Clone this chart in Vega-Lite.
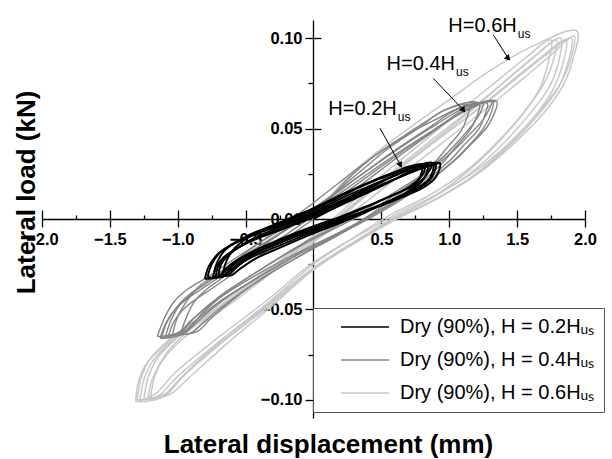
{
  "$schema": "https://vega.github.io/schema/vega-lite/v6.json",
  "width": 543,
  "height": 398,
  "autosize": {"type": "none"},
  "padding": {"left": 42, "top": 20, "right": 27, "bottom": 41},
  "background": "white",
  "config": {
    "view": {"stroke": null},
    "font": "Liberation Sans",
    "axis": {"grid": false, "tickColor": "black", "domainColor": "black", "tickWidth": 1.3, "domainWidth": 1.3, "labelColor": "black", "titleColor": "black"}
  },
  "datasets": {
    "loops": [
      {"s":"0.6","c":0,"i":0,"x":0,"y":0},{"s":"0.6","c":0,"i":1,"x":0.2,"y":0.019},{"s":"0.6","c":0,"i":2,"x":0.4,"y":0.033},{"s":"0.6","c":0,"i":3,"x":0.7,"y":0.05},{"s":"0.6","c":0,"i":4,"x":1.0,"y":0.066},{"s":"0.6","c":0,"i":5,"x":1.3,"y":0.082},{"s":"0.6","c":0,"i":6,"x":1.6,"y":0.095},{"s":"0.6","c":0,"i":7,"x":1.94,"y":0.104},{"s":"0.6","c":0,"i":8,"x":1.91,"y":0.088},{"s":"0.6","c":0,"i":9,"x":1.84,"y":0.074},{"s":"0.6","c":0,"i":10,"x":1.69,"y":0.058},{"s":"0.6","c":0,"i":11,"x":1.48,"y":0.042},{"s":"0.6","c":0,"i":12,"x":1.23,"y":0.026},{"s":"0.6","c":0,"i":13,"x":0.93,"y":0.012},{"s":"0.6","c":0,"i":14,"x":0.62,"y":0.001},

      {"s":"0.6","c":1,"i":0,"x":-1.3,"y":-0.1},{"s":"0.6","c":1,"i":1,"x":-1.27,"y":-0.088},{"s":"0.6","c":1,"i":2,"x":-1.2,"y":-0.077},{"s":"0.6","c":1,"i":3,"x":-1.05,"y":-0.066},{"s":"0.6","c":1,"i":4,"x":-0.85,"y":-0.055},{"s":"0.6","c":1,"i":5,"x":-0.6,"y":-0.042},{"s":"0.6","c":1,"i":6,"x":-0.3,"y":-0.026},{"s":"0.6","c":1,"i":7,"x":0,"y":-0.01},{"s":"0.6","c":1,"i":8,"x":0.3,"y":0.008},{"s":"0.6","c":1,"i":9,"x":0.6,"y":0.026},{"s":"0.6","c":1,"i":10,"x":0.9,"y":0.043},{"s":"0.6","c":1,"i":11,"x":1.2,"y":0.06},{"s":"0.6","c":1,"i":12,"x":1.5,"y":0.078},{"s":"0.6","c":1,"i":13,"x":1.7,"y":0.09},{"s":"0.6","c":1,"i":14,"x":1.9,"y":0.1},{"s":"0.6","c":1,"i":15,"x":1.87,"y":0.085},{"s":"0.6","c":1,"i":16,"x":1.8,"y":0.072},{"s":"0.6","c":1,"i":17,"x":1.65,"y":0.057},{"s":"0.6","c":1,"i":18,"x":1.45,"y":0.041},{"s":"0.6","c":1,"i":19,"x":1.2,"y":0.025},{"s":"0.6","c":1,"i":20,"x":0.9,"y":0.011},{"s":"0.6","c":1,"i":21,"x":0.6,"y":0.0},{"s":"0.6","c":1,"i":22,"x":0.3,"y":-0.013},{"s":"0.6","c":1,"i":23,"x":0,"y":-0.027},{"s":"0.6","c":1,"i":24,"x":-0.35,"y":-0.048},{"s":"0.6","c":1,"i":25,"x":-0.7,"y":-0.068},{"s":"0.6","c":1,"i":26,"x":-1.0,"y":-0.087},{"s":"0.6","c":1,"i":27,"x":-1.15,"y":-0.098},{"s":"0.6","c":1,"i":28,"x":-1.3,"y":-0.1},

      {"s":"0.6","c":2,"i":0,"x":-1.25,"y":-0.1},{"s":"0.6","c":2,"i":1,"x":-1.22,"y":-0.088},{"s":"0.6","c":2,"i":2,"x":-1.15,"y":-0.077},{"s":"0.6","c":2,"i":3,"x":-1.01,"y":-0.066},{"s":"0.6","c":2,"i":4,"x":-0.82,"y":-0.055},{"s":"0.6","c":2,"i":5,"x":-0.58,"y":-0.042},{"s":"0.6","c":2,"i":6,"x":-0.29,"y":-0.026},{"s":"0.6","c":2,"i":7,"x":0,"y":-0.01},{"s":"0.6","c":2,"i":8,"x":0.29,"y":0.008},{"s":"0.6","c":2,"i":9,"x":0.58,"y":0.026},{"s":"0.6","c":2,"i":10,"x":0.86,"y":0.043},{"s":"0.6","c":2,"i":11,"x":1.15,"y":0.06},{"s":"0.6","c":2,"i":12,"x":1.44,"y":0.078},{"s":"0.6","c":2,"i":13,"x":1.63,"y":0.09},{"s":"0.6","c":2,"i":14,"x":1.82,"y":0.1},{"s":"0.6","c":2,"i":15,"x":1.8,"y":0.085},{"s":"0.6","c":2,"i":16,"x":1.73,"y":0.072},{"s":"0.6","c":2,"i":17,"x":1.58,"y":0.057},{"s":"0.6","c":2,"i":18,"x":1.39,"y":0.041},{"s":"0.6","c":2,"i":19,"x":1.15,"y":0.025},{"s":"0.6","c":2,"i":20,"x":0.86,"y":0.011},{"s":"0.6","c":2,"i":21,"x":0.58,"y":0.0},{"s":"0.6","c":2,"i":22,"x":0.29,"y":-0.013},{"s":"0.6","c":2,"i":23,"x":0,"y":-0.027},{"s":"0.6","c":2,"i":24,"x":-0.34,"y":-0.048},{"s":"0.6","c":2,"i":25,"x":-0.67,"y":-0.068},{"s":"0.6","c":2,"i":26,"x":-0.96,"y":-0.087},{"s":"0.6","c":2,"i":27,"x":-1.1,"y":-0.098},{"s":"0.6","c":2,"i":28,"x":-1.25,"y":-0.1},

      {"s":"0.6","c":3,"i":0,"x":-1.2,"y":-0.099},{"s":"0.6","c":3,"i":1,"x":-1.17,"y":-0.087},{"s":"0.6","c":3,"i":2,"x":-1.1,"y":-0.076},{"s":"0.6","c":3,"i":3,"x":-0.97,"y":-0.065},{"s":"0.6","c":3,"i":4,"x":-0.78,"y":-0.054},{"s":"0.6","c":3,"i":5,"x":-0.55,"y":-0.041},{"s":"0.6","c":3,"i":6,"x":-0.28,"y":-0.025},{"s":"0.6","c":3,"i":7,"x":0,"y":-0.009},{"s":"0.6","c":3,"i":8,"x":0.28,"y":0.009},{"s":"0.6","c":3,"i":9,"x":0.55,"y":0.027},{"s":"0.6","c":3,"i":10,"x":0.83,"y":0.044},{"s":"0.6","c":3,"i":11,"x":1.1,"y":0.061},{"s":"0.6","c":3,"i":12,"x":1.38,"y":0.078},{"s":"0.6","c":3,"i":13,"x":1.56,"y":0.089},{"s":"0.6","c":3,"i":14,"x":1.75,"y":0.099},{"s":"0.6","c":3,"i":15,"x":1.72,"y":0.084},{"s":"0.6","c":3,"i":16,"x":1.66,"y":0.071},{"s":"0.6","c":3,"i":17,"x":1.52,"y":0.056},{"s":"0.6","c":3,"i":18,"x":1.33,"y":0.04},{"s":"0.6","c":3,"i":19,"x":1.1,"y":0.024},{"s":"0.6","c":3,"i":20,"x":0.83,"y":0.01},{"s":"0.6","c":3,"i":21,"x":0.55,"y":-0.001},{"s":"0.6","c":3,"i":22,"x":0.28,"y":-0.014},{"s":"0.6","c":3,"i":23,"x":0,"y":-0.028},{"s":"0.6","c":3,"i":24,"x":-0.32,"y":-0.049},{"s":"0.6","c":3,"i":25,"x":-0.64,"y":-0.069},{"s":"0.6","c":3,"i":26,"x":-0.92,"y":-0.088},{"s":"0.6","c":3,"i":27,"x":-1.06,"y":-0.097},{"s":"0.6","c":3,"i":28,"x":-1.2,"y":-0.099},

      {"s":"0.6","c":4,"i":0,"x":-1.28,"y":-0.101},{"s":"0.6","c":4,"i":1,"x":-1.25,"y":-0.089},{"s":"0.6","c":4,"i":2,"x":-1.18,"y":-0.078},{"s":"0.6","c":4,"i":3,"x":-1.03,"y":-0.067},{"s":"0.6","c":4,"i":4,"x":-0.83,"y":-0.056},{"s":"0.6","c":4,"i":5,"x":-0.59,"y":-0.043},{"s":"0.6","c":4,"i":6,"x":-0.29,"y":-0.027},{"s":"0.6","c":4,"i":7,"x":0,"y":-0.011},{"s":"0.6","c":4,"i":8,"x":0.29,"y":0.007},{"s":"0.6","c":4,"i":9,"x":0.59,"y":0.025},{"s":"0.6","c":4,"i":10,"x":0.88,"y":0.042},{"s":"0.6","c":4,"i":11,"x":1.18,"y":0.059},{"s":"0.6","c":4,"i":12,"x":1.47,"y":0.077},{"s":"0.6","c":4,"i":13,"x":1.67,"y":0.089},{"s":"0.6","c":4,"i":14,"x":1.86,"y":0.099},{"s":"0.6","c":4,"i":15,"x":1.83,"y":0.084},{"s":"0.6","c":4,"i":16,"x":1.76,"y":0.071},{"s":"0.6","c":4,"i":17,"x":1.62,"y":0.056},{"s":"0.6","c":4,"i":18,"x":1.42,"y":0.04},{"s":"0.6","c":4,"i":19,"x":1.18,"y":0.024},{"s":"0.6","c":4,"i":20,"x":0.88,"y":0.01},{"s":"0.6","c":4,"i":21,"x":0.59,"y":-0.001},{"s":"0.6","c":4,"i":22,"x":0.29,"y":-0.014},{"s":"0.6","c":4,"i":23,"x":0,"y":-0.028},{"s":"0.6","c":4,"i":24,"x":-0.34,"y":-0.049},{"s":"0.6","c":4,"i":25,"x":-0.69,"y":-0.069},{"s":"0.6","c":4,"i":26,"x":-0.98,"y":-0.088},{"s":"0.6","c":4,"i":27,"x":-1.13,"y":-0.099},{"s":"0.6","c":4,"i":28,"x":-1.28,"y":-0.101},

      {"s":"0.6","c":5,"i":0,"x":-1.22,"y":-0.1},{"s":"0.6","c":5,"i":1,"x":-1.19,"y":-0.089},{"s":"0.6","c":5,"i":2,"x":-1.12,"y":-0.079},{"s":"0.6","c":5,"i":3,"x":-0.99,"y":-0.068},{"s":"0.6","c":5,"i":4,"x":-0.8,"y":-0.057},{"s":"0.6","c":5,"i":5,"x":-0.56,"y":-0.044},{"s":"0.6","c":5,"i":6,"x":-0.28,"y":-0.028},{"s":"0.6","c":5,"i":7,"x":0,"y":-0.012},{"s":"0.6","c":5,"i":8,"x":0.28,"y":0.006},{"s":"0.6","c":5,"i":9,"x":0.56,"y":0.024},{"s":"0.6","c":5,"i":10,"x":0.85,"y":0.041},{"s":"0.6","c":5,"i":11,"x":1.13,"y":0.058},{"s":"0.6","c":5,"i":12,"x":1.41,"y":0.076},{"s":"0.6","c":5,"i":13,"x":1.6,"y":0.088},{"s":"0.6","c":5,"i":14,"x":1.79,"y":0.099},{"s":"0.6","c":5,"i":15,"x":1.76,"y":0.086},{"s":"0.6","c":5,"i":16,"x":1.69,"y":0.074},{"s":"0.6","c":5,"i":17,"x":1.55,"y":0.059},{"s":"0.6","c":5,"i":18,"x":1.36,"y":0.043},{"s":"0.6","c":5,"i":19,"x":1.13,"y":0.027},{"s":"0.6","c":5,"i":20,"x":0.85,"y":0.013},{"s":"0.6","c":5,"i":21,"x":0.56,"y":0.002},{"s":"0.6","c":5,"i":22,"x":0.28,"y":-0.011},{"s":"0.6","c":5,"i":23,"x":0,"y":-0.025},{"s":"0.6","c":5,"i":24,"x":-0.33,"y":-0.046},{"s":"0.6","c":5,"i":25,"x":-0.66,"y":-0.066},{"s":"0.6","c":5,"i":26,"x":-0.94,"y":-0.085},{"s":"0.6","c":5,"i":27,"x":-1.08,"y":-0.096},{"s":"0.6","c":5,"i":28,"x":-1.22,"y":-0.1},

      {"s":"0.6","c":6,"i":0,"x":-1.31,"y":-0.101},{"s":"0.6","c":6,"i":1,"x":-1.29,"y":-0.09},{"s":"0.6","c":6,"i":2,"x":-1.23,"y":-0.08},{"s":"0.6","c":6,"i":3,"x":-1.08,"y":-0.069},{"s":"0.6","c":6,"i":4,"x":-0.88,"y":-0.058},{"s":"0.6","c":6,"i":5,"x":-0.62,"y":-0.045},{"s":"0.6","c":6,"i":6,"x":-0.31,"y":-0.029},{"s":"0.6","c":6,"i":7,"x":0,"y":-0.013},{"s":"0.6","c":6,"i":8,"x":0.31,"y":0.005},{"s":"0.6","c":6,"i":9,"x":0.62,"y":0.023},{"s":"0.6","c":6,"i":10,"x":0.93,"y":0.041},{"s":"0.6","c":6,"i":11,"x":1.24,"y":0.059},{"s":"0.6","c":6,"i":12,"x":1.55,"y":0.078},{"s":"0.6","c":6,"i":13,"x":1.74,"y":0.09},{"s":"0.6","c":6,"i":14,"x":1.92,"y":0.101},{"s":"0.6","c":6,"i":15,"x":1.89,"y":0.087},{"s":"0.6","c":6,"i":16,"x":1.82,"y":0.075},{"s":"0.6","c":6,"i":17,"x":1.67,"y":0.06},{"s":"0.6","c":6,"i":18,"x":1.47,"y":0.044},{"s":"0.6","c":6,"i":19,"x":1.22,"y":0.028},{"s":"0.6","c":6,"i":20,"x":0.92,"y":0.014},{"s":"0.6","c":6,"i":21,"x":0.62,"y":0.003},{"s":"0.6","c":6,"i":22,"x":0.31,"y":-0.01},{"s":"0.6","c":6,"i":23,"x":0,"y":-0.024},{"s":"0.6","c":6,"i":24,"x":-0.36,"y":-0.046},{"s":"0.6","c":6,"i":25,"x":-0.71,"y":-0.066},{"s":"0.6","c":6,"i":26,"x":-1.02,"y":-0.085},{"s":"0.6","c":6,"i":27,"x":-1.17,"y":-0.097},{"s":"0.6","c":6,"i":28,"x":-1.31,"y":-0.101},

      {"s":"0.4","c":0,"i":0,"x":0,"y":0},{"s":"0.4","c":0,"i":1,"x":0.2,"y":0.018},{"s":"0.4","c":0,"i":2,"x":0.4,"y":0.032},{"s":"0.4","c":0,"i":3,"x":0.65,"y":0.045},{"s":"0.4","c":0,"i":4,"x":0.9,"y":0.055},{"s":"0.4","c":0,"i":5,"x":1.13,"y":0.063},{"s":"0.4","c":0,"i":6,"x":1.35,"y":0.065},

      {"s":"0.4","c":1,"i":0,"x":-1.15,"y":-0.065},{"s":"0.4","c":1,"i":1,"x":-1.1,"y":-0.055},{"s":"0.4","c":1,"i":2,"x":-1.03,"y":-0.046},{"s":"0.4","c":1,"i":3,"x":-0.93,"y":-0.039},{"s":"0.4","c":1,"i":4,"x":-0.8,"y":-0.033},{"s":"0.4","c":1,"i":5,"x":-0.5,"y":-0.018},{"s":"0.4","c":1,"i":6,"x":-0.2,"y":-0.004},{"s":"0.4","c":1,"i":7,"x":0,"y":0.006},{"s":"0.4","c":1,"i":8,"x":0.4,"y":0.027},{"s":"0.4","c":1,"i":9,"x":0.65,"y":0.04},{"s":"0.4","c":1,"i":10,"x":0.9,"y":0.052},{"s":"0.4","c":1,"i":11,"x":1.13,"y":0.062},{"s":"0.4","c":1,"i":12,"x":1.35,"y":0.065},{"s":"0.4","c":1,"i":13,"x":1.33,"y":0.058},{"s":"0.4","c":1,"i":14,"x":1.28,"y":0.051},{"s":"0.4","c":1,"i":15,"x":1.17,"y":0.042},{"s":"0.4","c":1,"i":16,"x":1.05,"y":0.033},{"s":"0.4","c":1,"i":17,"x":0.85,"y":0.021},{"s":"0.4","c":1,"i":18,"x":0.5,"y":0.005},{"s":"0.4","c":1,"i":19,"x":0.2,"y":-0.007},{"s":"0.4","c":1,"i":20,"x":-0.1,"y":-0.018},{"s":"0.4","c":1,"i":21,"x":-0.4,"y":-0.03},{"s":"0.4","c":1,"i":22,"x":-0.7,"y":-0.044},{"s":"0.4","c":1,"i":23,"x":-0.9,"y":-0.056},{"s":"0.4","c":1,"i":24,"x":-1.0,"y":-0.063},{"s":"0.4","c":1,"i":25,"x":-1.15,"y":-0.065},

      {"s":"0.4","c":2,"i":0,"x":-1.09,"y":-0.065},{"s":"0.4","c":2,"i":1,"x":-1.05,"y":-0.056},{"s":"0.4","c":2,"i":2,"x":-0.98,"y":-0.047},{"s":"0.4","c":2,"i":3,"x":-0.88,"y":-0.04},{"s":"0.4","c":2,"i":4,"x":-0.76,"y":-0.034},{"s":"0.4","c":2,"i":5,"x":-0.48,"y":-0.019},{"s":"0.4","c":2,"i":6,"x":-0.19,"y":-0.005},{"s":"0.4","c":2,"i":7,"x":0,"y":0.005},{"s":"0.4","c":2,"i":8,"x":0.38,"y":0.026},{"s":"0.4","c":2,"i":9,"x":0.62,"y":0.039},{"s":"0.4","c":2,"i":10,"x":0.86,"y":0.051},{"s":"0.4","c":2,"i":11,"x":1.07,"y":0.061},{"s":"0.4","c":2,"i":12,"x":1.28,"y":0.064},{"s":"0.4","c":2,"i":13,"x":1.26,"y":0.057},{"s":"0.4","c":2,"i":14,"x":1.22,"y":0.05},{"s":"0.4","c":2,"i":15,"x":1.11,"y":0.041},{"s":"0.4","c":2,"i":16,"x":1.0,"y":0.032},{"s":"0.4","c":2,"i":17,"x":0.81,"y":0.02},{"s":"0.4","c":2,"i":18,"x":0.48,"y":0.004},{"s":"0.4","c":2,"i":19,"x":0.19,"y":-0.008},{"s":"0.4","c":2,"i":20,"x":-0.1,"y":-0.019},{"s":"0.4","c":2,"i":21,"x":-0.38,"y":-0.031},{"s":"0.4","c":2,"i":22,"x":-0.67,"y":-0.045},{"s":"0.4","c":2,"i":23,"x":-0.86,"y":-0.057},{"s":"0.4","c":2,"i":24,"x":-0.95,"y":-0.063},{"s":"0.4","c":2,"i":25,"x":-1.09,"y":-0.065},

      {"s":"0.4","c":3,"i":0,"x":-1.04,"y":-0.064},{"s":"0.4","c":3,"i":1,"x":-1.0,"y":-0.054},{"s":"0.4","c":3,"i":2,"x":-0.93,"y":-0.045},{"s":"0.4","c":3,"i":3,"x":-0.84,"y":-0.037},{"s":"0.4","c":3,"i":4,"x":-0.72,"y":-0.031},{"s":"0.4","c":3,"i":5,"x":-0.45,"y":-0.016},{"s":"0.4","c":3,"i":6,"x":-0.18,"y":-0.001},{"s":"0.4","c":3,"i":7,"x":0,"y":0.009},{"s":"0.4","c":3,"i":8,"x":0.36,"y":0.03},{"s":"0.4","c":3,"i":9,"x":0.59,"y":0.042},{"s":"0.4","c":3,"i":10,"x":0.81,"y":0.053},{"s":"0.4","c":3,"i":11,"x":1.02,"y":0.062},{"s":"0.4","c":3,"i":12,"x":1.22,"y":0.064},{"s":"0.4","c":3,"i":13,"x":1.2,"y":0.056},{"s":"0.4","c":3,"i":14,"x":1.15,"y":0.049},{"s":"0.4","c":3,"i":15,"x":1.05,"y":0.04},{"s":"0.4","c":3,"i":16,"x":0.95,"y":0.031},{"s":"0.4","c":3,"i":17,"x":0.77,"y":0.019},{"s":"0.4","c":3,"i":18,"x":0.45,"y":0.003},{"s":"0.4","c":3,"i":19,"x":0.18,"y":-0.009},{"s":"0.4","c":3,"i":20,"x":-0.09,"y":-0.02},{"s":"0.4","c":3,"i":21,"x":-0.36,"y":-0.032},{"s":"0.4","c":3,"i":22,"x":-0.63,"y":-0.046},{"s":"0.4","c":3,"i":23,"x":-0.81,"y":-0.057},{"s":"0.4","c":3,"i":24,"x":-0.9,"y":-0.063},{"s":"0.4","c":3,"i":25,"x":-1.04,"y":-0.064},

      {"s":"0.4","c":4,"i":0,"x":-0.98,"y":-0.064},{"s":"0.4","c":4,"i":1,"x":-0.94,"y":-0.055},{"s":"0.4","c":4,"i":2,"x":-0.88,"y":-0.046},{"s":"0.4","c":4,"i":3,"x":-0.79,"y":-0.039},{"s":"0.4","c":4,"i":4,"x":-0.68,"y":-0.033},{"s":"0.4","c":4,"i":5,"x":-0.43,"y":-0.018},{"s":"0.4","c":4,"i":6,"x":-0.17,"y":-0.004},{"s":"0.4","c":4,"i":7,"x":0,"y":0.005},{"s":"0.4","c":4,"i":8,"x":0.34,"y":0.026},{"s":"0.4","c":4,"i":9,"x":0.55,"y":0.039},{"s":"0.4","c":4,"i":10,"x":0.77,"y":0.05},{"s":"0.4","c":4,"i":11,"x":0.96,"y":0.06},{"s":"0.4","c":4,"i":12,"x":1.15,"y":0.063},{"s":"0.4","c":4,"i":13,"x":1.13,"y":0.056},{"s":"0.4","c":4,"i":14,"x":1.09,"y":0.049},{"s":"0.4","c":4,"i":15,"x":0.99,"y":0.04},{"s":"0.4","c":4,"i":16,"x":0.89,"y":0.031},{"s":"0.4","c":4,"i":17,"x":0.72,"y":0.019},{"s":"0.4","c":4,"i":18,"x":0.43,"y":0.003},{"s":"0.4","c":4,"i":19,"x":0.17,"y":-0.009},{"s":"0.4","c":4,"i":20,"x":-0.09,"y":-0.02},{"s":"0.4","c":4,"i":21,"x":-0.34,"y":-0.031},{"s":"0.4","c":4,"i":22,"x":-0.6,"y":-0.045},{"s":"0.4","c":4,"i":23,"x":-0.77,"y":-0.056},{"s":"0.4","c":4,"i":24,"x":-0.85,"y":-0.062},{"s":"0.4","c":4,"i":25,"x":-0.98,"y":-0.064},

      {"s":"0.4","c":5,"i":0,"x":-1.12,"y":-0.066},{"s":"0.4","c":5,"i":1,"x":-1.08,"y":-0.057},{"s":"0.4","c":5,"i":2,"x":-1.0,"y":-0.048},{"s":"0.4","c":5,"i":3,"x":-0.9,"y":-0.041},{"s":"0.4","c":5,"i":4,"x":-0.78,"y":-0.035},{"s":"0.4","c":5,"i":5,"x":-0.5,"y":-0.02},{"s":"0.4","c":5,"i":6,"x":-0.2,"y":-0.006},{"s":"0.4","c":5,"i":7,"x":0,"y":0.004},{"s":"0.4","c":5,"i":8,"x":0.4,"y":0.025},{"s":"0.4","c":5,"i":9,"x":0.65,"y":0.038},{"s":"0.4","c":5,"i":10,"x":0.9,"y":0.05},{"s":"0.4","c":5,"i":11,"x":1.13,"y":0.061},{"s":"0.4","c":5,"i":12,"x":1.32,"y":0.065},{"s":"0.4","c":5,"i":13,"x":1.3,"y":0.057},{"s":"0.4","c":5,"i":14,"x":1.25,"y":0.05},{"s":"0.4","c":5,"i":15,"x":1.15,"y":0.041},{"s":"0.4","c":5,"i":16,"x":1.03,"y":0.032},{"s":"0.4","c":5,"i":17,"x":0.83,"y":0.02},{"s":"0.4","c":5,"i":18,"x":0.5,"y":0.004},{"s":"0.4","c":5,"i":19,"x":0.2,"y":-0.008},{"s":"0.4","c":5,"i":20,"x":-0.1,"y":-0.019},{"s":"0.4","c":5,"i":21,"x":-0.4,"y":-0.032},{"s":"0.4","c":5,"i":22,"x":-0.7,"y":-0.046},{"s":"0.4","c":5,"i":23,"x":-0.88,"y":-0.057},{"s":"0.4","c":5,"i":24,"x":-0.98,"y":-0.064},{"s":"0.4","c":5,"i":25,"x":-1.12,"y":-0.066},

      {"s":"0.4","c":6,"i":0,"x":-1.07,"y":-0.065},{"s":"0.4","c":6,"i":1,"x":-1.03,"y":-0.057},{"s":"0.4","c":6,"i":2,"x":-0.96,"y":-0.05},{"s":"0.4","c":6,"i":3,"x":-0.86,"y":-0.044},{"s":"0.4","c":6,"i":4,"x":-0.74,"y":-0.038},{"s":"0.4","c":6,"i":5,"x":-0.47,"y":-0.024},{"s":"0.4","c":6,"i":6,"x":-0.19,"y":-0.01},{"s":"0.4","c":6,"i":7,"x":0,"y":0.0},{"s":"0.4","c":6,"i":8,"x":0.37,"y":0.02},{"s":"0.4","c":6,"i":9,"x":0.6,"y":0.033},{"s":"0.4","c":6,"i":10,"x":0.84,"y":0.046},{"s":"0.4","c":6,"i":11,"x":1.05,"y":0.057},{"s":"0.4","c":6,"i":12,"x":1.25,"y":0.064},{"s":"0.4","c":6,"i":13,"x":1.23,"y":0.059},{"s":"0.4","c":6,"i":14,"x":1.18,"y":0.053},{"s":"0.4","c":6,"i":15,"x":1.09,"y":0.045},{"s":"0.4","c":6,"i":16,"x":0.98,"y":0.036},{"s":"0.4","c":6,"i":17,"x":0.79,"y":0.024},{"s":"0.4","c":6,"i":18,"x":0.47,"y":0.009},{"s":"0.4","c":6,"i":19,"x":0.19,"y":-0.003},{"s":"0.4","c":6,"i":20,"x":-0.09,"y":-0.014},{"s":"0.4","c":6,"i":21,"x":-0.37,"y":-0.027},{"s":"0.4","c":6,"i":22,"x":-0.65,"y":-0.041},{"s":"0.4","c":6,"i":23,"x":-0.83,"y":-0.053},{"s":"0.4","c":6,"i":24,"x":-0.93,"y":-0.061},{"s":"0.4","c":6,"i":25,"x":-1.07,"y":-0.065},

      {"s":"0.4","c":7,"i":0,"x":-1.13,"y":-0.066},{"s":"0.4","c":7,"i":1,"x":-1.09,"y":-0.058},{"s":"0.4","c":7,"i":2,"x":-1.02,"y":-0.05},{"s":"0.4","c":7,"i":3,"x":-0.91,"y":-0.043},{"s":"0.4","c":7,"i":4,"x":-0.79,"y":-0.037},{"s":"0.4","c":7,"i":5,"x":-0.49,"y":-0.022},{"s":"0.4","c":7,"i":6,"x":-0.19,"y":-0.008},{"s":"0.4","c":7,"i":7,"x":0,"y":0.002},{"s":"0.4","c":7,"i":8,"x":0.39,"y":0.023},{"s":"0.4","c":7,"i":9,"x":0.63,"y":0.036},{"s":"0.4","c":7,"i":10,"x":0.87,"y":0.048},{"s":"0.4","c":7,"i":11,"x":1.1,"y":0.059},{"s":"0.4","c":7,"i":12,"x":1.31,"y":0.065},{"s":"0.4","c":7,"i":13,"x":1.29,"y":0.06},{"s":"0.4","c":7,"i":14,"x":1.24,"y":0.054},{"s":"0.4","c":7,"i":15,"x":1.14,"y":0.046},{"s":"0.4","c":7,"i":16,"x":1.02,"y":0.037},{"s":"0.4","c":7,"i":17,"x":0.82,"y":0.025},{"s":"0.4","c":7,"i":18,"x":0.49,"y":0.008},{"s":"0.4","c":7,"i":19,"x":0.19,"y":-0.004},{"s":"0.4","c":7,"i":20,"x":-0.1,"y":-0.015},{"s":"0.4","c":7,"i":21,"x":-0.39,"y":-0.028},{"s":"0.4","c":7,"i":22,"x":-0.68,"y":-0.042},{"s":"0.4","c":7,"i":23,"x":-0.87,"y":-0.054},{"s":"0.4","c":7,"i":24,"x":-0.97,"y":-0.062},{"s":"0.4","c":7,"i":25,"x":-1.13,"y":-0.066},

      {"s":"0.2","c":0,"i":0,"x":0,"y":0},{"s":"0.2","c":0,"i":1,"x":0.2,"y":0.008},{"s":"0.2","c":0,"i":2,"x":0.4,"y":0.015},{"s":"0.2","c":0,"i":3,"x":0.6,"y":0.022},{"s":"0.2","c":0,"i":4,"x":0.8,"y":0.028},{"s":"0.2","c":0,"i":5,"x":0.93,"y":0.031},

      {"s":"0.2","c":1,"i":0,"x":-0.78,"y":-0.032},{"s":"0.2","c":1,"i":1,"x":-0.75,"y":-0.025},{"s":"0.2","c":1,"i":2,"x":-0.68,"y":-0.018},{"s":"0.2","c":1,"i":3,"x":-0.5,"y":-0.01},{"s":"0.2","c":1,"i":4,"x":-0.25,"y":-0.003},{"s":"0.2","c":1,"i":5,"x":0,"y":0.004},{"s":"0.2","c":1,"i":6,"x":0.25,"y":0.013},{"s":"0.2","c":1,"i":7,"x":0.5,"y":0.021},{"s":"0.2","c":1,"i":8,"x":0.7,"y":0.027},{"s":"0.2","c":1,"i":9,"x":0.82,"y":0.03},{"s":"0.2","c":1,"i":10,"x":0.93,"y":0.031},{"s":"0.2","c":1,"i":11,"x":0.9,"y":0.023},{"s":"0.2","c":1,"i":12,"x":0.8,"y":0.017},{"s":"0.2","c":1,"i":13,"x":0.65,"y":0.012},{"s":"0.2","c":1,"i":14,"x":0.45,"y":0.006},{"s":"0.2","c":1,"i":15,"x":0.2,"y":-0.001},{"s":"0.2","c":1,"i":16,"x":0,"y":-0.006},{"s":"0.2","c":1,"i":17,"x":-0.25,"y":-0.013},{"s":"0.2","c":1,"i":18,"x":-0.5,"y":-0.021},{"s":"0.2","c":1,"i":19,"x":-0.64,"y":-0.028},{"s":"0.2","c":1,"i":20,"x":-0.7,"y":-0.032},{"s":"0.2","c":1,"i":21,"x":-0.78,"y":-0.032},

      {"s":"0.2","c":2,"i":0,"x":-0.74,"y":-0.032},{"s":"0.2","c":2,"i":1,"x":-0.71,"y":-0.024},{"s":"0.2","c":2,"i":2,"x":-0.65,"y":-0.017},{"s":"0.2","c":2,"i":3,"x":-0.48,"y":-0.009},{"s":"0.2","c":2,"i":4,"x":-0.24,"y":-0.002},{"s":"0.2","c":2,"i":5,"x":0,"y":0.005},{"s":"0.2","c":2,"i":6,"x":0.24,"y":0.014},{"s":"0.2","c":2,"i":7,"x":0.48,"y":0.022},{"s":"0.2","c":2,"i":8,"x":0.67,"y":0.027},{"s":"0.2","c":2,"i":9,"x":0.78,"y":0.03},{"s":"0.2","c":2,"i":10,"x":0.88,"y":0.031},{"s":"0.2","c":2,"i":11,"x":0.86,"y":0.023},{"s":"0.2","c":2,"i":12,"x":0.76,"y":0.017},{"s":"0.2","c":2,"i":13,"x":0.62,"y":0.012},{"s":"0.2","c":2,"i":14,"x":0.43,"y":0.006},{"s":"0.2","c":2,"i":15,"x":0.19,"y":-0.001},{"s":"0.2","c":2,"i":16,"x":0,"y":-0.006},{"s":"0.2","c":2,"i":17,"x":-0.24,"y":-0.013},{"s":"0.2","c":2,"i":18,"x":-0.48,"y":-0.021},{"s":"0.2","c":2,"i":19,"x":-0.61,"y":-0.028},{"s":"0.2","c":2,"i":20,"x":-0.67,"y":-0.032},{"s":"0.2","c":2,"i":21,"x":-0.74,"y":-0.032},

      {"s":"0.2","c":3,"i":0,"x":-0.7,"y":-0.031},{"s":"0.2","c":3,"i":1,"x":-0.68,"y":-0.025},{"s":"0.2","c":3,"i":2,"x":-0.61,"y":-0.019},{"s":"0.2","c":3,"i":3,"x":-0.45,"y":-0.011},{"s":"0.2","c":3,"i":4,"x":-0.23,"y":-0.004},{"s":"0.2","c":3,"i":5,"x":0,"y":0.003},{"s":"0.2","c":3,"i":6,"x":0.23,"y":0.011},{"s":"0.2","c":3,"i":7,"x":0.45,"y":0.019},{"s":"0.2","c":3,"i":8,"x":0.63,"y":0.025},{"s":"0.2","c":3,"i":9,"x":0.74,"y":0.029},{"s":"0.2","c":3,"i":10,"x":0.84,"y":0.03},{"s":"0.2","c":3,"i":11,"x":0.81,"y":0.022},{"s":"0.2","c":3,"i":12,"x":0.72,"y":0.016},{"s":"0.2","c":3,"i":13,"x":0.59,"y":0.011},{"s":"0.2","c":3,"i":14,"x":0.41,"y":0.005},{"s":"0.2","c":3,"i":15,"x":0.18,"y":-0.002},{"s":"0.2","c":3,"i":16,"x":0,"y":-0.007},{"s":"0.2","c":3,"i":17,"x":-0.23,"y":-0.014},{"s":"0.2","c":3,"i":18,"x":-0.45,"y":-0.021},{"s":"0.2","c":3,"i":19,"x":-0.58,"y":-0.027},{"s":"0.2","c":3,"i":20,"x":-0.63,"y":-0.031},{"s":"0.2","c":3,"i":21,"x":-0.7,"y":-0.031},

      {"s":"0.2","c":4,"i":0,"x":-0.67,"y":-0.031},{"s":"0.2","c":4,"i":1,"x":-0.64,"y":-0.023},{"s":"0.2","c":4,"i":2,"x":-0.58,"y":-0.016},{"s":"0.2","c":4,"i":3,"x":-0.43,"y":-0.008},{"s":"0.2","c":4,"i":4,"x":-0.22,"y":-0.001},{"s":"0.2","c":4,"i":5,"x":0,"y":0.006},{"s":"0.2","c":4,"i":6,"x":0.22,"y":0.014},{"s":"0.2","c":4,"i":7,"x":0.43,"y":0.021},{"s":"0.2","c":4,"i":8,"x":0.6,"y":0.026},{"s":"0.2","c":4,"i":9,"x":0.7,"y":0.029},{"s":"0.2","c":4,"i":10,"x":0.8,"y":0.03},{"s":"0.2","c":4,"i":11,"x":0.77,"y":0.021},{"s":"0.2","c":4,"i":12,"x":0.69,"y":0.015},{"s":"0.2","c":4,"i":13,"x":0.56,"y":0.01},{"s":"0.2","c":4,"i":14,"x":0.39,"y":0.004},{"s":"0.2","c":4,"i":15,"x":0.17,"y":-0.003},{"s":"0.2","c":4,"i":16,"x":0,"y":-0.008},{"s":"0.2","c":4,"i":17,"x":-0.22,"y":-0.015},{"s":"0.2","c":4,"i":18,"x":-0.43,"y":-0.022},{"s":"0.2","c":4,"i":19,"x":-0.55,"y":-0.028},{"s":"0.2","c":4,"i":20,"x":-0.6,"y":-0.031},{"s":"0.2","c":4,"i":21,"x":-0.67,"y":-0.031},

      {"s":"0.2","c":5,"i":0,"x":-0.8,"y":-0.033},{"s":"0.2","c":5,"i":1,"x":-0.77,"y":-0.026},{"s":"0.2","c":5,"i":2,"x":-0.7,"y":-0.019},{"s":"0.2","c":5,"i":3,"x":-0.51,"y":-0.011},{"s":"0.2","c":5,"i":4,"x":-0.26,"y":-0.004},{"s":"0.2","c":5,"i":5,"x":0,"y":0.003},{"s":"0.2","c":5,"i":6,"x":0.26,"y":0.011},{"s":"0.2","c":5,"i":7,"x":0.5,"y":0.019},{"s":"0.2","c":5,"i":8,"x":0.69,"y":0.025},{"s":"0.2","c":5,"i":9,"x":0.8,"y":0.029},{"s":"0.2","c":5,"i":10,"x":0.9,"y":0.031},{"s":"0.2","c":5,"i":11,"x":0.87,"y":0.023},{"s":"0.2","c":5,"i":12,"x":0.78,"y":0.017},{"s":"0.2","c":5,"i":13,"x":0.63,"y":0.012},{"s":"0.2","c":5,"i":14,"x":0.44,"y":0.006},{"s":"0.2","c":5,"i":15,"x":0.2,"y":0.0},{"s":"0.2","c":5,"i":16,"x":0,"y":-0.005},{"s":"0.2","c":5,"i":17,"x":-0.26,"y":-0.012},{"s":"0.2","c":5,"i":18,"x":-0.5,"y":-0.02},{"s":"0.2","c":5,"i":19,"x":-0.64,"y":-0.027},{"s":"0.2","c":5,"i":20,"x":-0.7,"y":-0.032},{"s":"0.2","c":5,"i":21,"x":-0.8,"y":-0.033},

      {"s":"0.2","c":6,"i":0,"x":-0.74,"y":-0.032},{"s":"0.2","c":6,"i":1,"x":-0.72,"y":-0.027},{"s":"0.2","c":6,"i":2,"x":-0.66,"y":-0.021},{"s":"0.2","c":6,"i":3,"x":-0.48,"y":-0.013},{"s":"0.2","c":6,"i":4,"x":-0.24,"y":-0.006},{"s":"0.2","c":6,"i":5,"x":0,"y":0.001},{"s":"0.2","c":6,"i":6,"x":0.24,"y":0.009},{"s":"0.2","c":6,"i":7,"x":0.47,"y":0.017},{"s":"0.2","c":6,"i":8,"x":0.65,"y":0.024},{"s":"0.2","c":6,"i":9,"x":0.77,"y":0.029},{"s":"0.2","c":6,"i":10,"x":0.87,"y":0.031},{"s":"0.2","c":6,"i":11,"x":0.84,"y":0.025},{"s":"0.2","c":6,"i":12,"x":0.75,"y":0.019},{"s":"0.2","c":6,"i":13,"x":0.61,"y":0.014},{"s":"0.2","c":6,"i":14,"x":0.42,"y":0.008},{"s":"0.2","c":6,"i":15,"x":0.19,"y":0.001},{"s":"0.2","c":6,"i":16,"x":0,"y":-0.004},{"s":"0.2","c":6,"i":17,"x":-0.24,"y":-0.011},{"s":"0.2","c":6,"i":18,"x":-0.47,"y":-0.019},{"s":"0.2","c":6,"i":19,"x":-0.6,"y":-0.026},{"s":"0.2","c":6,"i":20,"x":-0.66,"y":-0.031},{"s":"0.2","c":6,"i":21,"x":-0.74,"y":-0.032},

      {"s":"0.2","c":7,"i":0,"x":-0.72,"y":-0.032},{"s":"0.2","c":7,"i":1,"x":-0.7,"y":-0.026},{"s":"0.2","c":7,"i":2,"x":-0.63,"y":-0.02},{"s":"0.2","c":7,"i":3,"x":-0.46,"y":-0.012},{"s":"0.2","c":7,"i":4,"x":-0.23,"y":-0.005},{"s":"0.2","c":7,"i":5,"x":0,"y":0.002},{"s":"0.2","c":7,"i":6,"x":0.23,"y":0.01},{"s":"0.2","c":7,"i":7,"x":0.44,"y":0.018},{"s":"0.2","c":7,"i":8,"x":0.62,"y":0.025},{"s":"0.2","c":7,"i":9,"x":0.73,"y":0.029},{"s":"0.2","c":7,"i":10,"x":0.82,"y":0.03},{"s":"0.2","c":7,"i":11,"x":0.8,"y":0.024},{"s":"0.2","c":7,"i":12,"x":0.71,"y":0.018},{"s":"0.2","c":7,"i":13,"x":0.58,"y":0.013},{"s":"0.2","c":7,"i":14,"x":0.4,"y":0.007},{"s":"0.2","c":7,"i":15,"x":0.18,"y":0.0},{"s":"0.2","c":7,"i":16,"x":0,"y":-0.005},{"s":"0.2","c":7,"i":17,"x":-0.23,"y":-0.012},{"s":"0.2","c":7,"i":18,"x":-0.45,"y":-0.02},{"s":"0.2","c":7,"i":19,"x":-0.57,"y":-0.027},{"s":"0.2","c":7,"i":20,"x":-0.63,"y":-0.031},{"s":"0.2","c":7,"i":21,"x":-0.72,"y":-0.032}
    ],
    "notes": [
      {"t":"H=0.2H","x":0.613,"y":0.0575,"ax":0.49,"ay":0.0502,"bx":0.64,"by":0.0298},
      {"t":"H=0.4H","x":1.042,"y":0.0823,"ax":0.883,"ay":0.0777,"bx":1.104,"by":0.0602},
      {"t":"H=0.6H","x":1.497,"y":0.1035,"ax":1.325,"ay":0.1017,"bx":1.435,"by":0.0888}
    ]
  },
  "resolve": {"axis": {"x": "independent", "y": "independent"}},
  "layer": [
    {
      "data": {"name": "loops"},
      "transform": [{"filter": "datum.s == '0.6'"}],
      "mark": {"type": "line", "strokeWidth": 1.5, "interpolate": "catmull-rom"},
      "encoding": {
        "x": {"field": "x", "type": "quantitative", "scale": {"domain": [-2, 2], "nice": false, "zero": false},
          "axis": {"orient": "bottom", "offset": -199, "values": [-2, -1.5, -1, -0.5, 0.5, 1, 1.5, 2], "format": ".1f", "tickSize": 8,
            "labelFont": "Liberation Sans", "labelFontWeight": "bold", "labelFontSize": 16.5, "labelPadding": 4, "labelFlush": false, "labelOverlap": false,
            "title": "Lateral displacement (mm)", "titleFont": "Liberation Sans", "titleFontSize": 26, "titleFontWeight": "bold", "titleX": 286, "titleY": 233, "titleBaseline": "alphabetic", "titleAlign": "center"}},
        "y": {"field": "y", "type": "quantitative", "scale": {"domain": [-0.11, 0.11], "nice": false, "zero": false},
          "axis": {"orient": "left", "offset": -271, "values": [-0.1, -0.05, 0, 0.05, 0.1], "format": ".2f", "tickSize": 8,
            "labelFont": "Liberation Sans", "labelFontWeight": "bold", "labelFontSize": 16.5, "labelPadding": 3, "labelOverlap": false,
            "title": "Lateral load (kN)", "titleFont": "Liberation Sans", "titleFontSize": 26, "titleFontWeight": "bold", "titleX": -279, "titleY": 172, "titleBaseline": "alphabetic", "titleAngle": 270, "titleAlign": "center"}},
        "color": {"field": "s", "type": "nominal",
          "scale": {"domain": ["0.2", "0.4", "0.6"], "range": ["#000000", "#858585", "#c8c8c8"]},
          "legend": {"orient": "none", "legendX": 271, "legendY": 288, "title": null, "fillColor": "white", "strokeColor": "#555555", "padding": 9,
            "symbolType": "M-4.8,0H4.8", "symbolSize": 100, "symbolStrokeWidth": 1.5, "symbolOffset": 33, "labelOffset": 25, "rowPadding": 13,
            "labelFont": "Liberation Sans", "labelFontSize": 20, "labelColor": "black", "labelLimit": 400,
            "labelExpr": "'Dry (90%), H = ' + datum.label + 'Hᵤₛ'"}},
        "detail": {"field": "c", "type": "nominal"},
        "order": {"field": "i", "type": "quantitative"}
      }
    },
    {
      "data": {"name": "loops"},
      "transform": [{"filter": "datum.s == '0.4'"}],
      "mark": {"type": "line", "strokeWidth": 1.4, "interpolate": "catmull-rom"},
      "encoding": {
        "x": {"field": "x", "type": "quantitative", "axis": {"orient": "bottom", "offset": -199, "values": [-2, -1.5, -1, -0.5, 0.5, 1, 1.5, 2], "tickSize": -9, "labels": false, "domain": false, "title": null}},
        "y": {"field": "y", "type": "quantitative", "axis": {"orient": "left", "offset": -271, "values": [-0.1, -0.05, 0.05, 0.1], "tickSize": -8, "labels": false, "domain": false, "title": null}},
        "color": {"field": "s", "type": "nominal"},
        "detail": {"field": "c", "type": "nominal"},
        "order": {"field": "i", "type": "quantitative"}
      }
    },
    {
      "data": {"name": "loops"},
      "transform": [{"filter": "datum.s == '0.2'"}],
      "mark": {"type": "line", "strokeWidth": 1.9, "interpolate": "catmull-rom"},
      "encoding": {
        "x": {"field": "x", "type": "quantitative", "axis": {"orient": "bottom", "offset": -199, "values": [-1.75, -1.25, -0.75, -0.25, 0.25, 0.75, 1.25, 1.75], "tickSize": -4, "labels": false, "domain": false, "title": null}},
        "y": {"field": "y", "type": "quantitative", "axis": {"orient": "left", "offset": -271, "values": [-0.075, -0.025, 0.025, 0.075], "tickSize": 5, "labels": false, "domain": false, "title": null}},
        "color": {"field": "s", "type": "nominal"},
        "detail": {"field": "c", "type": "nominal"},
        "order": {"field": "i", "type": "quantitative"}
      }
    },
    {
      "data": {"name": "notes"},
      "mark": {"type": "rule", "color": "black", "strokeWidth": 1},
      "encoding": {
        "x": {"field": "ax", "type": "quantitative", "axis": null},
        "y": {"field": "ay", "type": "quantitative", "axis": null},
        "x2": {"field": "bx"},
        "y2": {"field": "by"}
      }
    },
    {
      "data": {"name": "notes"},
      "mark": {"type": "point", "shape": "triangle-down", "filled": true, "color": "black", "size": 45, "opacity": 1},
      "encoding": {
        "x": {"field": "bx", "type": "quantitative", "axis": null},
        "y": {"field": "by", "type": "quantitative", "axis": null},
        "angle": {"field": "t", "type": "nominal", "scale": {"domain": ["H=0.2H", "H=0.4H", "H=0.6H"], "range": [333, 317, 327]}, "legend": null}
      }
    },
    {
      "data": {"name": "notes"},
      "mark": {"type": "text", "align": "right", "baseline": "alphabetic", "font": "Liberation Sans", "fontSize": 20, "color": "black"},
      "encoding": {
        "x": {"field": "x", "type": "quantitative", "axis": null},
        "y": {"field": "y", "type": "quantitative", "axis": null},
        "text": {"field": "t"}
      }
    },
    {
      "data": {"name": "notes"},
      "mark": {"type": "text", "align": "left", "baseline": "alphabetic", "font": "Liberation Sans", "fontSize": 12, "color": "black", "dx": 1, "dy": 6, "text": "us"},
      "encoding": {
        "x": {"field": "x", "type": "quantitative", "axis": null},
        "y": {"field": "y", "type": "quantitative", "axis": null}
      }
    }
  ]
}
